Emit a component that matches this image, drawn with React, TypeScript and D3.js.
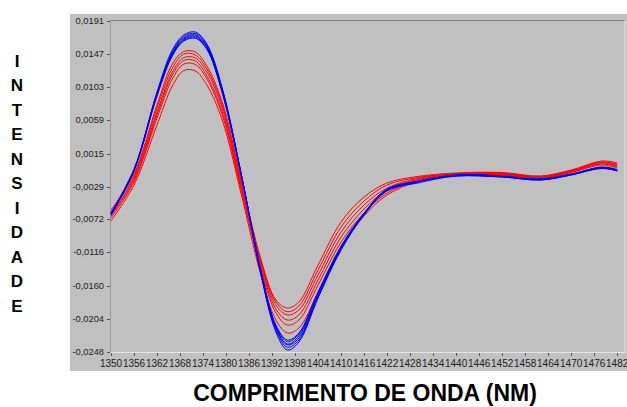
import React from 'react';
import * as d3 from 'd3';

// Wavelength grid (nm) at which each spectrum is sampled
const wavelengths = [1350, 1356, 1362, 1366, 1369, 1372, 1375, 1379, 1384, 1389, 1393, 1396, 1399, 1404, 1410, 1416, 1422, 1430, 1440, 1452, 1462, 1470, 1478, 1482];

// Red group spectra
const red1 = [-0.00598, -0.00121, 0.00793, 0.01336, 0.01502, 0.01495, 0.01310, 0.00833, -0.00201, -0.01234, -0.01791, -0.01897, -0.01817, -0.01327, -0.00757, -0.00426, -0.00240, -0.00154, -0.00108, -0.00101, -0.00148, -0.00068, 0.00051, 0.00025];
const red2 = [-0.00625, -0.00148, 0.00753, 0.01283, 0.01469, 0.01456, 0.01270, 0.00793, -0.00227, -0.01261, -0.01817, -0.01946, -0.01870, -0.01393, -0.00823, -0.00479, -0.00267, -0.00168, -0.00115, -0.00108, -0.00154, -0.00075, 0.00038, 0.00011];
const red3 = [-0.00664, -0.00174, 0.00700, 0.01230, 0.01422, 0.01416, 0.01230, 0.00753, -0.00267, -0.01287, -0.01857, -0.01989, -0.01923, -0.01459, -0.00890, -0.00532, -0.00307, -0.00181, -0.00121, -0.00115, -0.00161, -0.00081, 0.00031, -0.00002];
const red4 = [-0.00678, -0.00201, 0.00661, 0.01191, 0.01383, 0.01376, 0.01177, 0.00700, -0.00307, -0.01327, -0.01910, -0.02056, -0.01989, -0.01526, -0.00956, -0.00585, -0.00333, -0.00194, -0.00128, -0.00121, -0.00168, -0.00088, 0.00025, -0.00015];
const red5 = [-0.00704, -0.00227, 0.00621, 0.01138, 0.01336, 0.01330, 0.01138, 0.00661, -0.00346, -0.01367, -0.01963, -0.02122, -0.02056, -0.01592, -0.01022, -0.00638, -0.00373, -0.00207, -0.00134, -0.00128, -0.00174, -0.00095, 0.00011, -0.00028];
const red6 = [-0.00744, -0.00267, 0.00528, 0.01045, 0.01250, 0.01244, 0.01058, 0.00594, -0.00399, -0.01446, -0.02056, -0.02228, -0.02162, -0.01685, -0.01088, -0.00678, -0.00399, -0.00221, -0.00141, -0.00134, -0.00181, -0.00101, -0.00002, -0.00042];

// Blue group spectra
const blue1 = [-0.00664, -0.00068, 0.00965, 0.01522, 0.01721, 0.01760, 0.01601, 0.01018, -0.00134, -0.01433, -0.02215, -0.02453, -0.02347, -0.01764, -0.01128, -0.00664, -0.00346, -0.00240, -0.00148, -0.00161, -0.00201, -0.00134, -0.00048, -0.00081];
const blue2 = [-0.00651, -0.00068, 0.00952, 0.01502, 0.01701, 0.01740, 0.01588, 0.01005, -0.00134, -0.01420, -0.02188, -0.02417, -0.02321, -0.01751, -0.01115, -0.00658, -0.00340, -0.00227, -0.00141, -0.00154, -0.00194, -0.00128, -0.00042, -0.00075];
const blue3 = [-0.00638, -0.00055, 0.00939, 0.01482, 0.01681, 0.01721, 0.01568, 0.00992, -0.00134, -0.01406, -0.02162, -0.02374, -0.02268, -0.01724, -0.01102, -0.00651, -0.00333, -0.00227, -0.00134, -0.00148, -0.00187, -0.00121, -0.00035, -0.00068];
const blue4 = [-0.00651, -0.00081, 0.00926, 0.01456, 0.01654, 0.01690, 0.01542, 0.00965, -0.00148, -0.01393, -0.02135, -0.02343, -0.02241, -0.01698, -0.01088, -0.00645, -0.00327, -0.00221, -0.00134, -0.00148, -0.00187, -0.00121, -0.00028, -0.00062];
const blue5 = [-0.00664, -0.00081, 0.00912, 0.01442, 0.01641, 0.01677, 0.01528, 0.00952, -0.00148, -0.01380, -0.02122, -0.02321, -0.02228, -0.01685, -0.01075, -0.00638, -0.00320, -0.00214, -0.00141, -0.00154, -0.00194, -0.00128, -0.00035, -0.00068];
const blue6 = [-0.00638, -0.00068, 0.00939, 0.01469, 0.01668, 0.01707, 0.01555, 0.00979, -0.00134, -0.01393, -0.02148, -0.02387, -0.02294, -0.01738, -0.01108, -0.00651, -0.00333, -0.00227, -0.00148, -0.00161, -0.00201, -0.00134, -0.00042, -0.00081];

const redSeries = [red1, red2, red3, red4, red5, red6];
const blueSeries = [blue1, blue2, blue3, blue4, blue5, blue6];

// Axis ticks
const yTicks = [0.0191, 0.0147, 0.0103, 0.0059, 0.0015, -0.0029, -0.0072, -0.0116, -0.0160, -0.0204, -0.0248];
const xTicks = [1350, 1356, 1362, 1368, 1374, 1380, 1386, 1392, 1398, 1404, 1410, 1416, 1422, 1428, 1434, 1440, 1446, 1452, 1458, 1464, 1470, 1476, 1482];

const yTitle = 'INTENSIDADE';
const xTitle = 'COMPRIMENTO DE ONDA (NM)';

const FONT = '"Liberation Sans", Arial, Helvetica, sans-serif';

export default function App() {
  const W = 627;
  const H = 407;
  const plot = { left: 110.5, right: 625, top: 20.5, bottom: 352.5 };

  const x = d3.scaleLinear().domain([1350, 1482]).range([111, 617.2]);
  const y = d3.scaleLinear().domain([-0.0248, 0.0191]).range([352, 20.7]);

  const line = d3
    .line<number>()
    .x((_, i) => x(wavelengths[i]))
    .y((d) => y(d))
    .curve(d3.curveCatmullRom.alpha(0.5));

  const fmt = (v: number) => v.toFixed(4).replace('.', ',');

  return (
    <svg
      width={W}
      height={H}
      viewBox={`0 0 ${W} ${H}`}
      style={{ position: 'absolute', left: 0, top: 0, display: 'block', background: '#ffffff' }}
    >
      {/* chart panel */}
      <rect x={70} y={14} width={557} height={357} fill="#c0c0c0" />

      {/* plot frame */}
      <line x1={plot.left} x2={plot.right} y1={plot.top} y2={plot.top} stroke="#808080" strokeWidth={1} />
      <line x1={plot.left} x2={plot.left} y1={plot.top} y2={plot.bottom} stroke="#999999" strokeWidth={1} />
      <line x1={plot.left} x2={plot.right} y1={plot.bottom} y2={plot.bottom} stroke="#e6e6e6" strokeWidth={1} />
      <line x1={plot.right} x2={plot.right} y1={plot.top} y2={plot.bottom} stroke="#e6e6e6" strokeWidth={1} />

      {/* y axis ticks and labels */}
      {yTicks.map((t) => (
        <g key={`y${t}`}>
          <line x1={107} x2={110} y1={Math.round(y(t)) + 0.5} y2={Math.round(y(t)) + 0.5} stroke="#555" strokeWidth={1} />
          <text
            x={104}
            y={y(t)}
            textAnchor="end"
            dominantBaseline="central"
            fontFamily={FONT}
            fontSize={9.3}
            fill="#222"
          >
            {fmt(t)}
          </text>
        </g>
      ))}

      {/* x axis ticks and labels */}
      {xTicks.map((t) => (
        <g key={`x${t}`}>
          <line x1={Math.round(x(t)) + 0.5} x2={Math.round(x(t)) + 0.5} y1={353} y2={356} stroke="#555" strokeWidth={1} />
          <text x={x(t)} y={366.7} textAnchor="middle" fontFamily={FONT} fontSize={10} fill="#222">
            {t}
          </text>
        </g>
      ))}

      {/* spectra */}
      <g fill="none" strokeWidth={1} strokeLinejoin="round">
        {redSeries.map((s, i) => (
          <path key={`r${i}`} d={line(s) ?? ''} stroke="#ff0000" />
        ))}
        {blueSeries.map((s, i) => (
          <path key={`b${i}`} d={line(s) ?? ''} stroke="#0000ff" />
        ))}
      </g>

      {/* y title, stacked letters */}
      {yTitle.split('').map((c, i) => (
        <text
          key={`t${i}`}
          x={17}
          y={66.5 + i * 24.5}
          textAnchor="middle"
          fontFamily={FONT}
          fontWeight="bold"
          fontSize={17}
          fill="#000"
        >
          {c}
        </text>
      ))}

      {/* x title */}
      <text x={365} y={401} textAnchor="middle" fontFamily={FONT} fontWeight="bold" fontSize={23} fill="#000">
        {xTitle}
      </text>
    </svg>
  );
}
